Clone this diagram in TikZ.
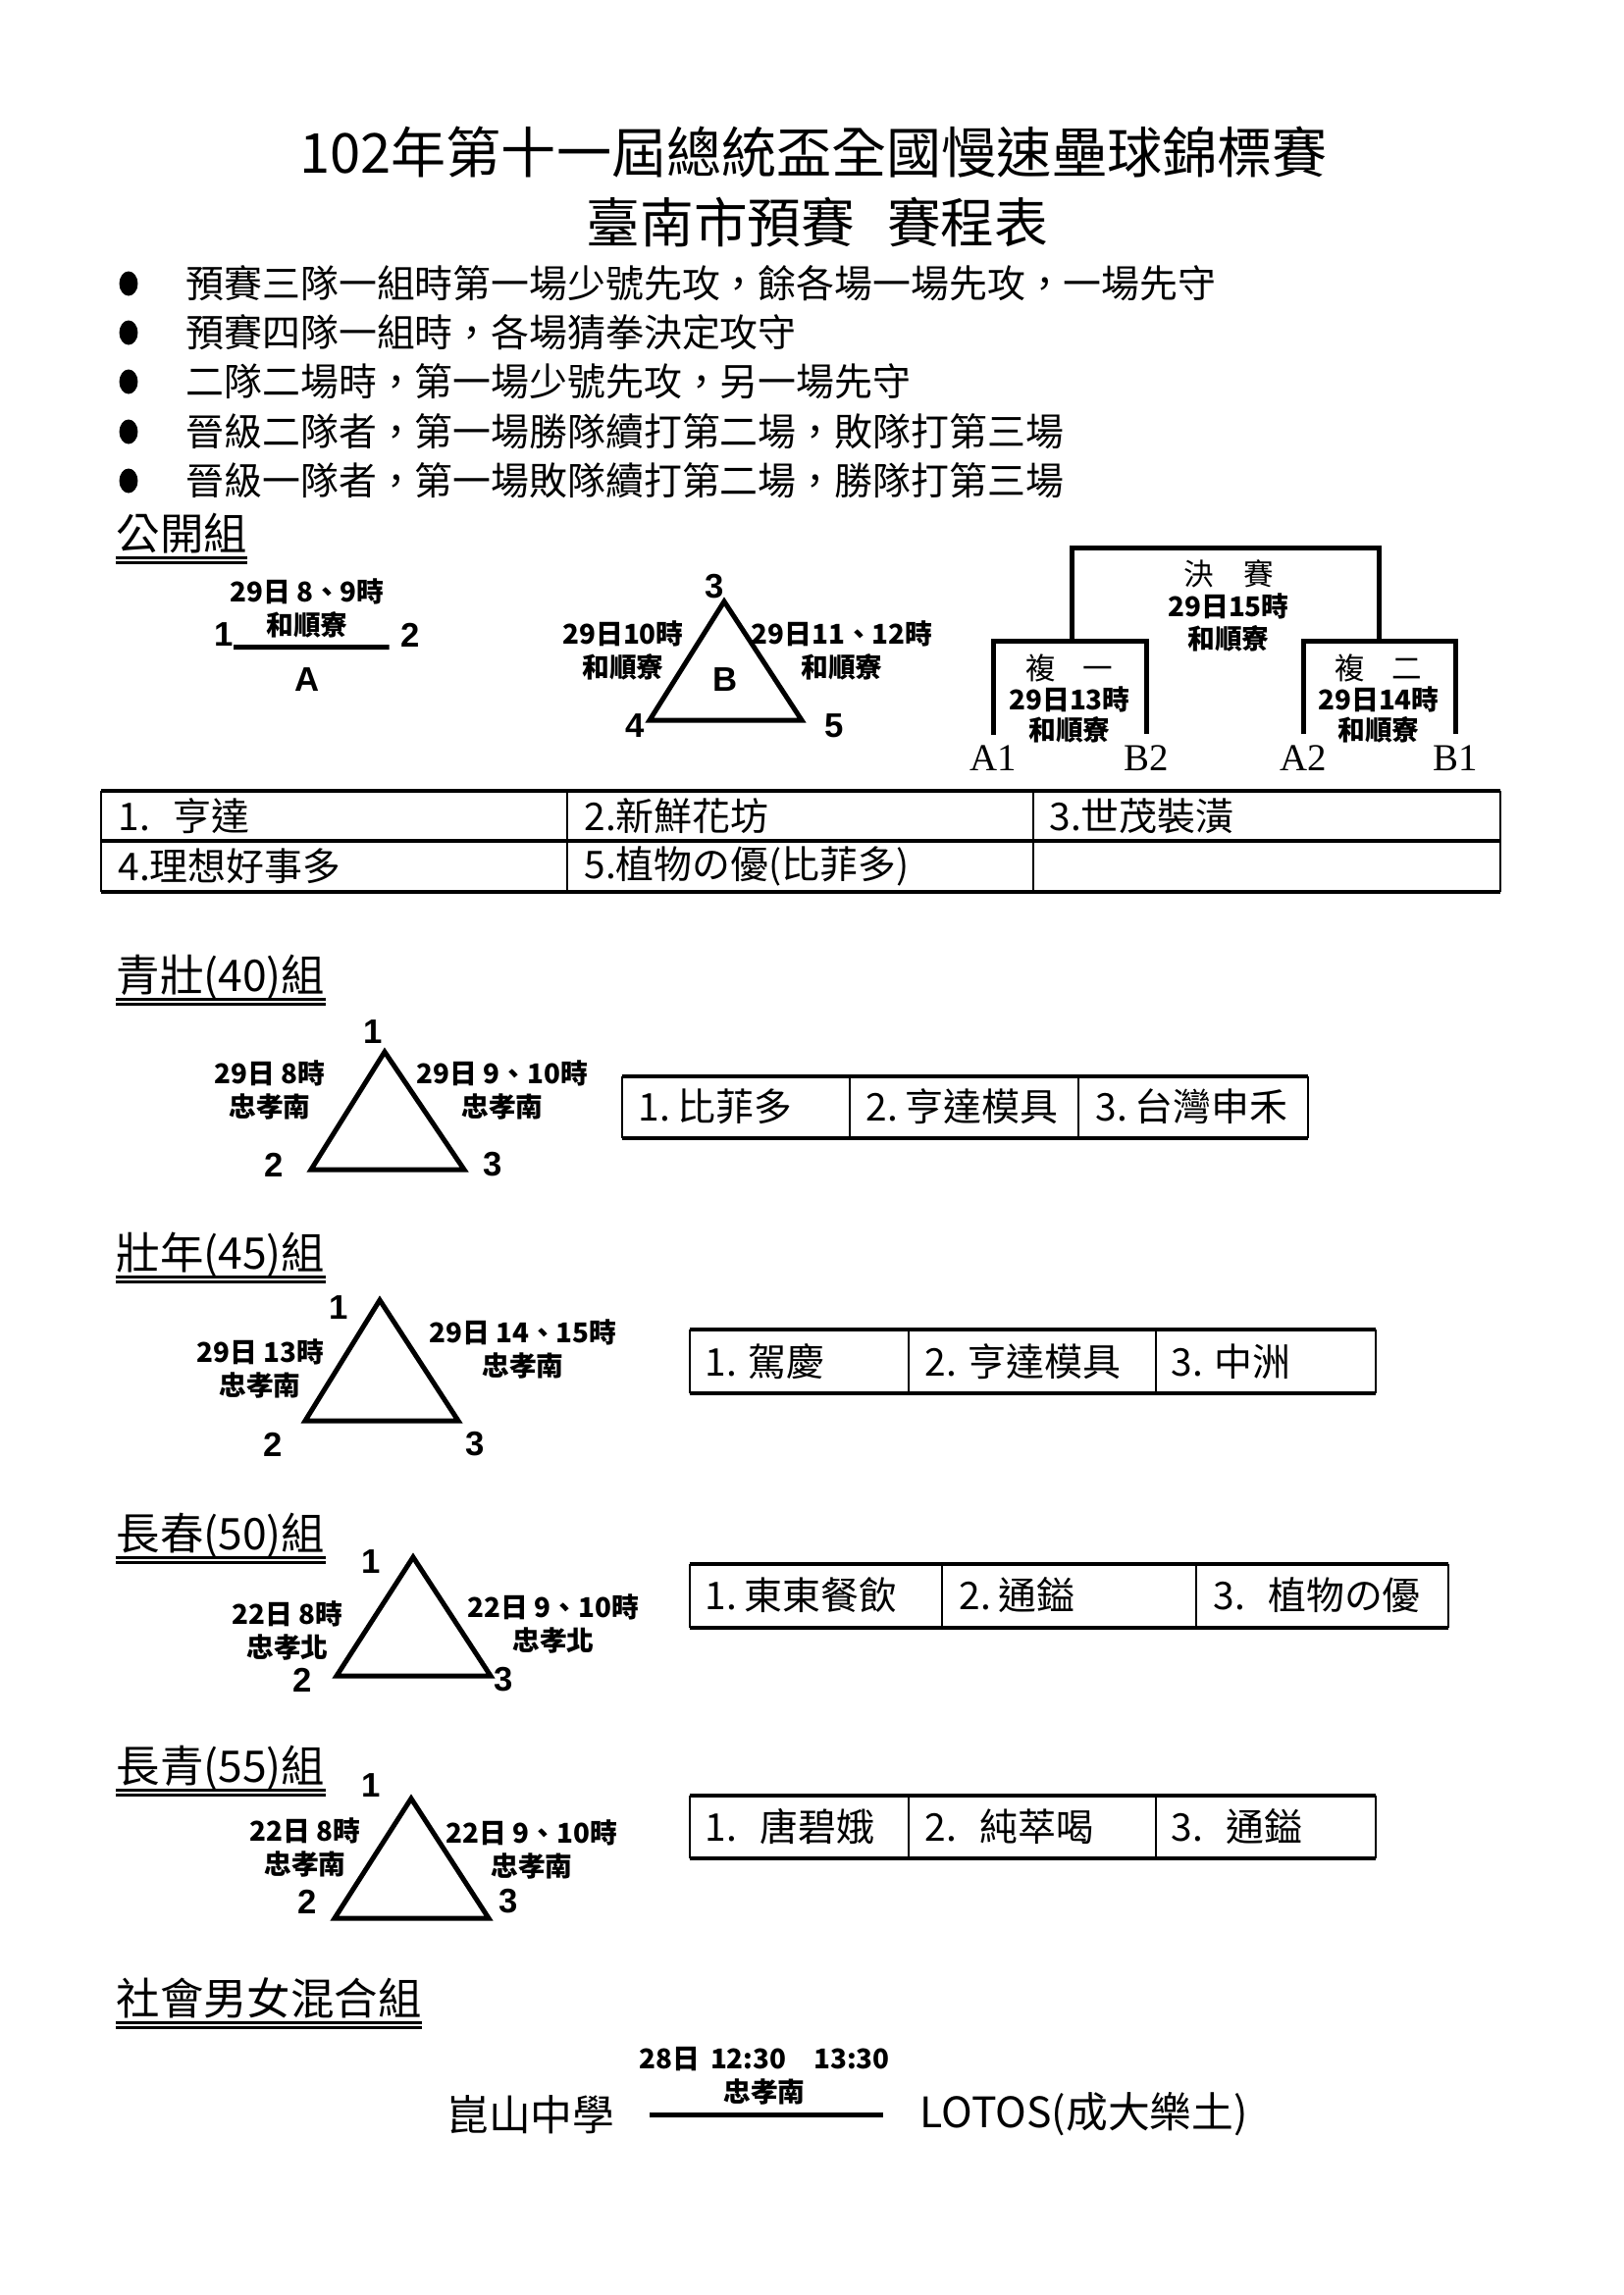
\documentclass[tikz,border=0pt]{standalone}
\usepackage{fontspec}
\setmainfont{Noto Sans CJK TC}
\newfontfamily\numfont{Liberation Sans}
\newfontfamily\seedfont{Liberation Serif}
\tikzset{
  toptitle/.style={inner sep=0pt, font=\fontsize{20.2}{24}\selectfont},
  bulletline/.style={anchor=west, inner sep=0pt, font=\fontsize{14}{17}\selectfont},
  grouphead/.style={anchor=base west, inner sep=0pt, font=\fontsize{16}{19}\selectfont},
  dblline/.style={line width=1.1pt},
  cellname/.style={anchor=west, inner sep=0pt, font=\fontsize{14}{17}\selectfont},
  teamname/.style={inner sep=0pt, font=\fontsize{15.4}{18}\selectfont},
  slotinfo/.style={align=center, inner sep=0pt, font=\bfseries\fontsize{10}{12.2}\selectfont},
  seatnum/.style={inner sep=0pt, font=\numfont\bfseries\fontsize{12.5}{14}\selectfont},
  seedlabel/.style={inner sep=0pt, font=\seedfont\fontsize{14}{17}\selectfont},
  triside/.style={line width=1.8pt, line join=miter},
  matchline/.style={line width=1.8pt},
  bracket/.style={line width=1.8pt},
  tabh/.style={line width=1.1pt},
  tabv/.style={line width=0.6pt},
}
\begin{document}
\begin{tikzpicture}[x=0.36pt, y=-0.36pt]
 \useasboundingbox (0,0) rectangle (1654,2339);
 % title
 \node[toptitle] (title1) at (829,155) {102年第十一屆總統盃全國慢速壘球錦標賽};
 \node[toptitle, font=\fontsize{19.7}{24}\selectfont] (title2) at (833,227) {臺南市預賽\hspace{0.6em}賽程表};
 % rules
 \fill (131,289) ellipse [x radius=3.4pt, y radius=4.5pt];
 \fill (131,339) ellipse [x radius=3.4pt, y radius=4.5pt];
 \fill (131,389) ellipse [x radius=3.4pt, y radius=4.5pt];
 \fill (131,440) ellipse [x radius=3.4pt, y radius=4.5pt];
 \fill (131,490) ellipse [x radius=3.4pt, y radius=4.5pt];
 \begin{scope}[every node/.style={bulletline}]
  \node (rule1) at (189,289) {預賽三隊一組時第一場少號先攻，餘各場一場先攻，一場先守};
  \node (rule2) at (189,339) {預賽四隊一組時，各場猜拳決定攻守};
  \node (rule3) at (189,389) {二隊二場時，第一場少號先攻，另一場先守};
  \node (rule4) at (189,440) {晉級二隊者，第一場勝隊續打第二場，敗隊打第三場};
  \node (rule5) at (189,490) {晉級一隊者，第一場敗隊續打第二場，勝隊打第三場};
 \end{scope}

 % open group
 \node[grouphead] (hOpen) at (118,560) {公開組};
 \draw[dblline] ([yshift=-2.9pt]hOpen.base west) -- ([yshift=-2.9pt]hOpen.base east);
 \draw[dblline] ([yshift=-4.7pt]hOpen.base west) -- ([yshift=-4.7pt]hOpen.base east);
 \begin{scope}[every node/.style={seatnum}]
  \node (a1) at (228,647) {1};
  \node (a2) at (418,647) {2};
  \node (aName) at (313,693) {A};
  \node (b3) at (728,598) {3};
  \node (b4) at (647,740) {4};
  \node (b5) at (850,740) {5};
  \node (bName) at (739,693) {B};
 \end{scope}
 \draw[matchline, shorten >=4pt] (a1.south east) -- (a2.south west);
 \node[slotinfo] (aInfo) at (313,620) {29日 8、9時\\和順寮};
 \coordinate (bTop) at (738,613);
 \coordinate (bLeft) at (662,734);
 \coordinate (bRight) at (817,734);
 \draw[triside] (bTop) -- (bLeft) -- (bRight) -- cycle;
 \node[slotinfo] (bInfoL) at (635,663) {29日10時\\和順寮};
 \node[slotinfo] (bInfoR) at (858,663) {29日11、12時\\和順寮};
 % playoff
 \coordinate (fin) at (1248,558);
 \coordinate (k1) at (1092,653);
 \coordinate (k2) at (1405,653);
 \begin{scope}[every node/.style={seedlabel}]
  \node (lA1) at (1012,773) {A1};
  \node (lB2) at (1168,773) {B2};
  \node (lA2) at (1328,773) {A2};
  \node (lB1) at (1483,773) {B1};
 \end{scope}
 \draw[bracket] (k1) |- (fin) -| (k2);
 \draw[bracket, shorten <=4pt, shorten >=4pt] (lA1) |- (k1) -| (lB2);
 \draw[bracket, shorten <=4pt, shorten >=4pt] (lA2) |- (k2) -| (lB1);
 \node[slotinfo, font=\bfseries\fontsize{10}{11.7}\selectfont] (final) at (1252,617) {{\mdseries\fontsize{11}{11.7}\selectfont 決\hspace{1em}賽}\\29日15時\\和順寮};
 \node[slotinfo, font=\bfseries\fontsize{10}{11}\selectfont] (rep1) at (1090,712) {{\mdseries\fontsize{11}{11}\selectfont 複\hspace{0.9em}一}\\29日13時\\和順寮};
 \node[slotinfo, font=\bfseries\fontsize{10}{11}\selectfont] (rep2) at (1405,712) {{\mdseries\fontsize{11}{11}\selectfont 複\hspace{0.9em}二}\\29日14時\\和順寮};
 % open table
 \draw[tabh] (103,806) -- (1529,806);
 \draw[tabh] (103,857) -- (1529,857);
 \draw[tabh] (103,909) -- (1529,909);
 \draw[tabv] (103,806) -- (103,909);
 \draw[tabv] (578,806) -- (578,909);
 \draw[tabv] (1053,806) -- (1053,909);
 \draw[tabv] (1529,806) -- (1529,909);
 \begin{scope}[every node/.style={cellname}]
  \node (o1) at (120,832) {1.\hspace{0.6em}亨達};
  \node (o2) at (595,832) {2.新鮮花坊};
  \node (o3) at (1069,832) {3.世茂裝潢};
  \node (o4) at (120,883) {4.理想好事多};
  \node (o5) at (595,883) {5.植物の優(比菲多)};
 \end{scope}

 % 40
 \node[grouphead] (hQing) at (118,1010) {青壯(40)組};
 \draw[dblline] ([yshift=-2.9pt]hQing.base west) -- ([yshift=-2.9pt]hQing.base east);
 \draw[dblline] ([yshift=-4.7pt]hQing.base west) -- ([yshift=-4.7pt]hQing.base east);
 \coordinate (q1) at (392,1072);
 \coordinate (q2) at (317,1192);
 \coordinate (q3) at (473,1192);
 \draw[triside] (q1) -- (q2) -- (q3) -- cycle;
 \begin{scope}[every node/.style={seatnum}]
  \node (qn1) at (380,1052) {1};
  \node (qn2) at (279,1187) {2};
  \node (qn3) at (502,1187) {3};
 \end{scope}
 \node[slotinfo] (qInfoL) at (275,1111) {29日 8時\\忠孝南};
 \node[slotinfo] (qInfoR) at (512,1111) {29日 9、10時\\忠孝南};
 \draw[tabh] (634,1097) -- (1333,1097);
 \draw[tabh] (634,1160) -- (1333,1160);
 \draw[tabv] (634,1097) -- (634,1160);
 \draw[tabv] (866,1097) -- (866,1160);
 \draw[tabv] (1099,1097) -- (1099,1160);
 \draw[tabv] (1333,1097) -- (1333,1160);
 \begin{scope}[every node/.style={cellname}]
  \node (qt1) at (650,1128) {1.\hspace{0.2em}比菲多};
  \node (qt2) at (882,1128) {2.\hspace{0.2em}亨達模具};
  \node (qt3) at (1116,1128) {3.\hspace{0.2em}台灣申禾};
 \end{scope}

 % 45
 \node[grouphead] (hZhuang) at (118,1293) {壯年(45)組};
 \draw[dblline] ([yshift=-2.9pt]hZhuang.base west) -- ([yshift=-2.9pt]hZhuang.base east);
 \draw[dblline] ([yshift=-4.7pt]hZhuang.base west) -- ([yshift=-4.7pt]hZhuang.base east);
 \coordinate (z1) at (387,1325);
 \coordinate (z2) at (311,1448);
 \coordinate (z3) at (467,1448);
 \draw[triside] (z1) -- (z2) -- (z3) -- cycle;
 \begin{scope}[every node/.style={seatnum}]
  \node (zn1) at (345,1333) {1};
  \node (zn2) at (278,1472) {2};
  \node (zn3) at (484,1472) {3};
 \end{scope}
 \node[slotinfo] (zInfoL) at (265,1395) {29日 13時\\忠孝南};
 \node[slotinfo] (zInfoR) at (533,1375) {29日 14、15時\\忠孝南};
 \draw[tabh] (703,1355) -- (1402,1355);
 \draw[tabh] (703,1420) -- (1402,1420);
 \draw[tabv] (703,1355) -- (703,1420);
 \draw[tabv] (926,1355) -- (926,1420);
 \draw[tabv] (1178,1355) -- (1178,1420);
 \draw[tabv] (1402,1355) -- (1402,1420);
 \begin{scope}[every node/.style={cellname}]
  \node (zt1) at (718,1388) {1.\hspace{0.3em}駕慶};
  \node (zt2) at (942,1388) {2.\hspace{0.3em}亨達模具};
  \node (zt3) at (1193,1388) {3.\hspace{0.3em}中洲};
 \end{scope}

 % 50
 \node[grouphead] (hChun) at (118,1579) {長春(50)組};
 \draw[dblline] ([yshift=-2.9pt]hChun.base west) -- ([yshift=-2.9pt]hChun.base east);
 \draw[dblline] ([yshift=-4.7pt]hChun.base west) -- ([yshift=-4.7pt]hChun.base east);
 \coordinate (c1) at (421,1587);
 \coordinate (c2) at (343,1708);
 \coordinate (c3) at (500,1708);
 \draw[triside] (c1) -- (c2) -- (c3) -- cycle;
 \begin{scope}[every node/.style={seatnum}]
  \node (cn1) at (378,1592) {1};
  \node (cn2) at (308,1712) {2};
  \node (cn3) at (513,1712) {3};
 \end{scope}
 \node[slotinfo] (cInfoL) at (293,1662) {22日 8時\\忠孝北};
 \node[slotinfo] (cInfoR) at (564,1655) {22日 9、10時\\忠孝北};
 \draw[tabh] (703,1594) -- (1476,1594);
 \draw[tabh] (703,1659) -- (1476,1659);
 \draw[tabv] (703,1594) -- (703,1659);
 \draw[tabv] (960,1594) -- (960,1659);
 \draw[tabv] (1219,1594) -- (1219,1659);
 \draw[tabv] (1476,1594) -- (1476,1659);
 \begin{scope}[every node/.style={cellname}]
  \node (ct1) at (718,1626) {1.\hspace{0.2em}東東餐飲};
  \node (ct2) at (977,1626) {2.\hspace{0.2em}通鎰};
  \node (ct3) at (1236,1626) {3.\hspace{0.6em}植物の優};
 \end{scope}

 % 55
 \node[grouphead] (hQing55) at (118,1816) {長青(55)組};
 \draw[dblline] ([yshift=-2.9pt]hQing55.base west) -- ([yshift=-2.9pt]hQing55.base east);
 \draw[dblline] ([yshift=-4.7pt]hQing55.base west) -- ([yshift=-4.7pt]hQing55.base east);
 \coordinate (g1) at (419,1833);
 \coordinate (g2) at (341,1955);
 \coordinate (g3) at (498,1955);
 \draw[triside] (g1) -- (g2) -- (g3) -- cycle;
 \begin{scope}[every node/.style={seatnum}]
  \node (gn1) at (378,1820) {1};
  \node (gn2) at (313,1938) {2};
  \node (gn3) at (518,1938) {3};
 \end{scope}
 \node[slotinfo] (gInfoL) at (311,1883) {22日 8時\\忠孝南};
 \node[slotinfo] (gInfoR) at (542,1885) {22日 9、10時\\忠孝南};
 \draw[tabh] (703,1830) -- (1402,1830);
 \draw[tabh] (703,1894) -- (1402,1894);
 \draw[tabv] (703,1830) -- (703,1894);
 \draw[tabv] (926,1830) -- (926,1894);
 \draw[tabv] (1178,1830) -- (1178,1894);
 \draw[tabv] (1402,1830) -- (1402,1894);
 \begin{scope}[every node/.style={cellname}]
  \node (gt1) at (718,1862) {1.\hspace{0.6em}唐碧娥};
  \node (gt2) at (942,1862) {2.\hspace{0.6em}純萃喝};
  \node (gt3) at (1193,1862) {3.\hspace{0.6em}通鎰};
 \end{scope}

 % mixed
 \node[grouphead] (hMix) at (118,2053) {社會男女混合組};
 \draw[dblline] ([yshift=-2.9pt]hMix.base west) -- ([yshift=-2.9pt]hMix.base east);
 \draw[dblline] ([yshift=-4.7pt]hMix.base west) -- ([yshift=-4.7pt]hMix.base east);
 \node[teamname, anchor=east] (kunshan) at (627,2155) {崑山中學};
 \node[teamname, anchor=west] (lotos) at (937,2155) {LOTOS(成大樂土)};
 \draw[matchline, shorten <=12.6pt, shorten >=13.3pt] (kunshan) -- (lotos);
 \node[slotinfo] (mInfo) at (779,2116) {28日\hspace{0.4em}12:30\hspace{1em}13:30\\忠孝南};
\end{tikzpicture}
\end{document}
